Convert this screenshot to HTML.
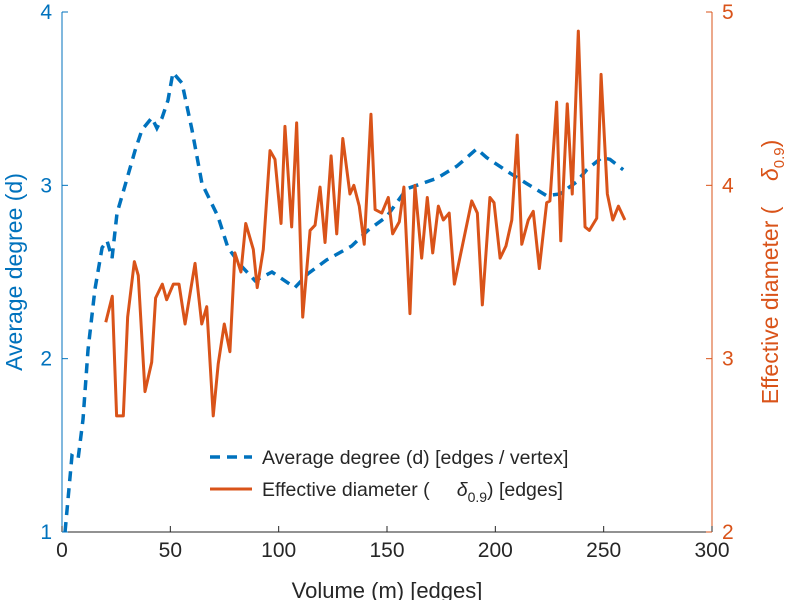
<!DOCTYPE html>
<html><head><meta charset="utf-8"><style>
body{margin:0;background:#fff;}
svg{display:block;font-family:"Liberation Sans",sans-serif;}
</style></head><body>
<svg id="chart" width="795" height="600" viewBox="0 0 795 600" xmlns="http://www.w3.org/2000/svg"></svg>
<script>
const xTicks=[0,50,100,150,200,250,300];
const leftTicks=[1,2,3,4];
const rightTicks=[2,3,4,5];
const degX=[1.4,4.6,7.4,9.7,12,15.2,18.5,20.8,23.1,25.4,28.2,33.7,36.9,41.5,43.8,46.2,48.9,51.2,55.4,60,64.6,72,76.6,83.1,89.1,96.9,107.5,113.5,122.2,133.7,141.2,149.9,159.1,172.9,182.2,191.4,196,206.8,214.5,223.7,229.8,237.5,242.2,249.1,252.9,259];
const degY=[1.0,1.44,1.42,1.65,2.05,2.40,2.64,2.68,2.58,2.84,2.96,3.20,3.32,3.39,3.33,3.39,3.49,3.65,3.59,3.32,3.01,2.82,2.64,2.53,2.45,2.5,2.41,2.49,2.57,2.65,2.74,2.82,2.98,3.04,3.11,3.21,3.16,3.07,3.01,2.94,2.95,3.02,3.09,3.16,3.15,3.09];
const diaX=[20.2,23.2,25.2,28.3,30.3,33.4,35.2,38.3,41.4,43.2,46.3,48.3,51.4,54,56.8,61.4,64.5,66.8,69.8,72.1,74.9,77.5,79.8,82.6,84.8,88.3,90.1,92.9,96,98.3,101.1,102.9,106,108.3,111.1,114.5,116.8,119.1,121.4,124.2,126.8,129.6,132.9,134.7,137.2,139.5,142.6,144.5,147.6,150.6,152.6,155.7,157.8,160.6,162.9,166,168.6,171.1,173.7,176,178.7,181.1,189.1,191.7,194,197.5,199.4,202.2,204.9,207.6,210.1,212.2,215.2,217.5,220.3,223.7,225.2,228.3,230.2,233.2,235.5,238.3,241.4,243.4,246.8,248.8,251.7,254.2,256.8,259.8];
const diaY=[3.21,3.36,2.67,2.67,3.24,3.56,3.48,2.81,2.98,3.35,3.43,3.34,3.43,3.43,3.2,3.55,3.2,3.3,2.67,2.97,3.2,3.04,3.61,3.5,3.78,3.63,3.41,3.63,4.2,4.15,3.78,4.34,3.76,4.36,3.24,3.74,3.77,3.99,3.67,4.17,3.72,4.27,3.95,4.0,3.88,3.66,4.41,3.86,3.84,3.93,3.72,3.79,3.99,3.26,4.0,3.58,3.93,3.61,3.88,3.8,3.84,3.43,3.91,3.84,3.31,3.93,3.9,3.58,3.65,3.8,4.29,3.66,3.8,3.85,3.52,3.9,3.91,4.48,3.68,4.47,3.95,4.89,3.76,3.74,3.81,4.64,3.95,3.8,3.88,3.8];

const L=62,R=712,T=12,B=532;
const BLUE='#0072BD',ORANGE='#D95319';
const sx=v=>L+(v-0)/(300-0)*(R-L);
const syL=v=>B-(v-1)/(4-1)*(B-T);
const syR=v=>B-(v-2)/(5-2)*(B-T);
const svg=document.getElementById('chart');
const NS='http://www.w3.org/2000/svg';
function mk(tag,attrs,parent){const e=document.createElementNS(NS,tag);for(const k in attrs)e.setAttribute(k,attrs[k]);(parent||svg).appendChild(e);return e;}

let e;
e=mk('line',{x1:L,y1:B,x2:R,y2:B,stroke:'#262626','stroke-width':1});


e=mk('line',{x1:L,y1:T,x2:L,y2:B,stroke:BLUE,'stroke-width':1});


e=mk('line',{x1:R,y1:T,x2:R,y2:B,stroke:ORANGE,'stroke-width':1});



xTicks.forEach(t=>{
  const x=sx(t);
  mk('line',{x1:x,y1:B,x2:x,y2:B-6,stroke:'#262626'});
  const tx=mk('text',{x:x,y:B+25,'text-anchor':'middle','font-size':21,fill:'#262626'});
  tx.textContent=t;
  
  
});
leftTicks.forEach(t=>{
  const y=syL(t);
  mk('line',{x1:L,y1:y,x2:L+6,y2:y,stroke:BLUE});
  const tx=mk('text',{x:L-10,y:y+7,'text-anchor':'end','font-size':21,fill:BLUE});
  tx.textContent=t;
  
  
});
rightTicks.forEach(t=>{
  const y=syR(t);
  mk('line',{x1:R,y1:y,x2:R-6,y2:y,stroke:ORANGE});
  const tx=mk('text',{x:R+10,y:y+7,'text-anchor':'start','font-size':21,fill:ORANGE});
  tx.textContent=t;
  
  
});

const dp=degX.map((v,i)=>sx(v)+','+syL(degY[i])).join(' ');
e=mk('polyline',{points:dp,fill:'none',stroke:BLUE,'stroke-width':3.5,'stroke-dasharray':'10,7'});


const op=diaX.map((v,i)=>sx(v)+','+syR(diaY[i])).join(' ');
e=mk('polyline',{points:op,fill:'none',stroke:ORANGE,'stroke-width':3,'stroke-linejoin':'round'});


</script>
<svg style="position:absolute;left:0;top:0" width="795" height="600">
  <text x="387" y="598" text-anchor="middle" font-family="Liberation Sans" font-size="22" fill="#262626">Volume (m) [edges]</text>
  <text transform="translate(22,272) rotate(-90)" text-anchor="middle" font-family="Liberation Sans" font-size="23" fill="#0072BD">Average degree (d)</text>
  <text transform="translate(778,272) rotate(-90)" text-anchor="middle" font-family="Liberation Sans" font-size="23" fill="#D95319">Effective diameter (&#160;&#160;&#160;&#160;<tspan font-style="italic">δ</tspan><tspan font-size="15" dy="6">0.9</tspan><tspan dy="-6">)</tspan></text>
  <g>
    <line x1="210" y1="457" x2="252" y2="457" stroke="#0072BD" stroke-width="3.5" stroke-dasharray="10,7"/>
    <text x="262" y="464" font-family="Liberation Sans" font-size="19.5" fill="#262626">Average degree (d) [edges / vertex]</text>
    <line x1="210" y1="489" x2="252" y2="489" stroke="#D95319" stroke-width="3"/>
    <text x="262" y="496" font-family="Liberation Sans" font-size="19.5" fill="#262626">Effective diameter (&#160;&#160;&#160;&#160;&#160;<tspan font-style="italic">δ</tspan><tspan font-size="14" dy="6">0.9</tspan><tspan dy="-6">) [edges]</tspan></text>
  </g>
</svg>
</body></html>
